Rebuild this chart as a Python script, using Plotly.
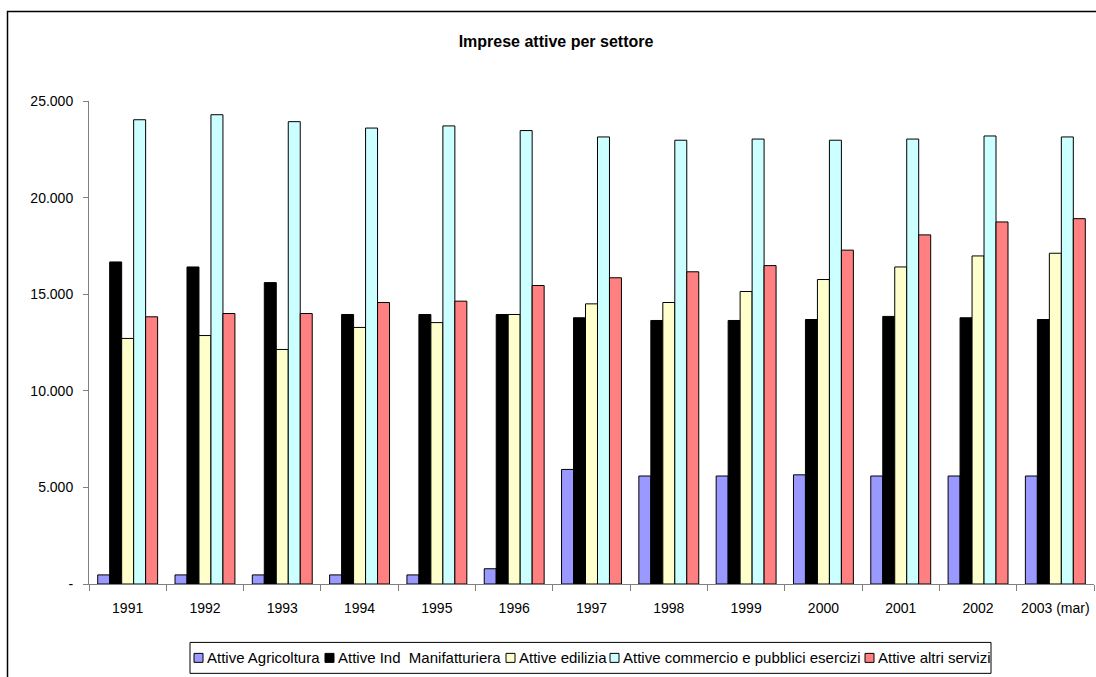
import plotly.graph_objects as go

# Anni di riferimento
anni = ["1991", "1992", "1993", "1994", "1995", "1996", "1997",
        "1998", "1999", "2000", "2001", "2002", "2003 (mar)"]

# Imprese attive per settore
agricoltura = [470, 470, 470, 470, 470, 790, 5930, 5590, 5590, 5650, 5590, 5590, 5590]
manifatturiera = [16670, 16410, 15600, 13950, 13950, 13950, 13780, 13640, 13640, 13690, 13850, 13780, 13690]
edilizia = [12710, 12860, 12140, 13280, 13530, 13950, 14500, 14570, 15140, 15760, 16410, 16980, 17120]
commercio = [24030, 24290, 23930, 23600, 23710, 23470, 23140, 22970, 23030, 22970, 23030, 23190, 23140]
altri_servizi = [13830, 14000, 14000, 14570, 14640, 15450, 15850, 16160, 16480, 17280, 18070, 18740, 18910]

nomi = ["Attive Agricoltura", "Attive Ind  Manifatturiera", "Attive edilizia",
        "Attive commercio e pubblici esercizi", "Attive altri servizi"]
valori = [agricoltura, manifatturiera, edilizia, commercio, altri_servizi]
colori = ["#9999FF", "#000000", "#FFFFCC", "#CCFFFF", "#FF8080"]

# Etichette dell'asse dei valori
y_tick_vals = [0, 5000, 10000, 15000, 20000, 25000]
y_tick_text = ["-", "5.000", "10.000", "15.000", "20.000", "25.000"]

FONT = "Arial, Liberation Sans, sans-serif"

fig = go.Figure()
for nome, serie, colore in zip(nomi, valori, colori):
    fig.add_trace(go.Bar(
        x=anni, y=serie, name=nome, showlegend=False,
        marker=dict(color=colore, line=dict(color="#000000", width=1)),
    ))

W, H = 1096, 677
L, R, T, B = 89, 2, 100.7, 92.5
pw, ph = W - L - R, H - T - B


def px(x):
    return (x - L) / pw


def py(y):
    return (H - B - y) / ph


fig.update_layout(
    width=W, height=H,
    margin=dict(l=L, r=R, t=T, b=B, autoexpand=False),
    paper_bgcolor="#FFFFFF", plot_bgcolor="#FFFFFF",
    font=dict(family=FONT, size=14, color="#000000"),
    barmode="group", bargap=0.225, bargroupgap=0,
    showlegend=False,
    title=dict(text="<b>Imprese attive per settore</b>",
               xref="paper", x=px(556), xanchor="center",
               yref="container", y=1 - 41 / H, yanchor="middle",
               font=dict(family=FONT, size=16, color="#000000")),
    xaxis=dict(type="category", showline=True, linecolor="#808080", linewidth=1,
               ticks="outside", ticklen=6, tickcolor="#808080",
               tickson="boundaries", showgrid=False, zeroline=False,
               tickangle=0, ticklabelstandoff=11,
               tickfont=dict(family=FONT, size=14)),
    yaxis=dict(range=[0, 25000], showline=True, linecolor="#808080", linewidth=1,
               ticks="outside", ticklen=5, tickcolor="#808080",
               tickvals=y_tick_vals, ticktext=y_tick_text,
               showgrid=False, zeroline=False, ticklabelstandoff=7,
               tickfont=dict(family=FONT, size=14)),
)

# Cornice dell'area del grafico
fig.add_shape(type="rect", xref="paper", yref="paper",
              x0=px(7.5), x1=px(1110), y0=py(11), y1=py(700),
              line=dict(color="#000000", width=1.5), fillcolor="rgba(0,0,0,0)",
              layer="above")

# Legenda orizzontale in riquadro
leg_left, leg_right, leg_top, leg_bottom = 190, 991, 643, 674
leg_mid = (leg_top + leg_bottom) / 2
fig.add_shape(type="rect", xref="paper", yref="paper",
              x0=px(leg_left), x1=px(leg_right), y0=py(leg_top), y1=py(leg_bottom),
              line=dict(color="#000000", width=1), fillcolor="#FFFFFF")
leg_square_x = [194, 325, 506, 610, 865]
for nome, colore, sx in zip(nomi, colori, leg_square_x):
    fig.add_shape(type="rect", xref="paper", yref="paper",
                  x0=px(sx), x1=px(sx + 9), y0=py(leg_mid - 4.5), y1=py(leg_mid + 4.5),
                  line=dict(color="#000000", width=1), fillcolor=colore)
    fig.add_annotation(text=nome, xref="paper", yref="paper",
                       x=px(sx + 11), y=py(leg_mid), xanchor="left", yanchor="middle",
                       showarrow=False, font=dict(family=FONT, size=15, color="#000000"))

fig.write_html("out.html")
